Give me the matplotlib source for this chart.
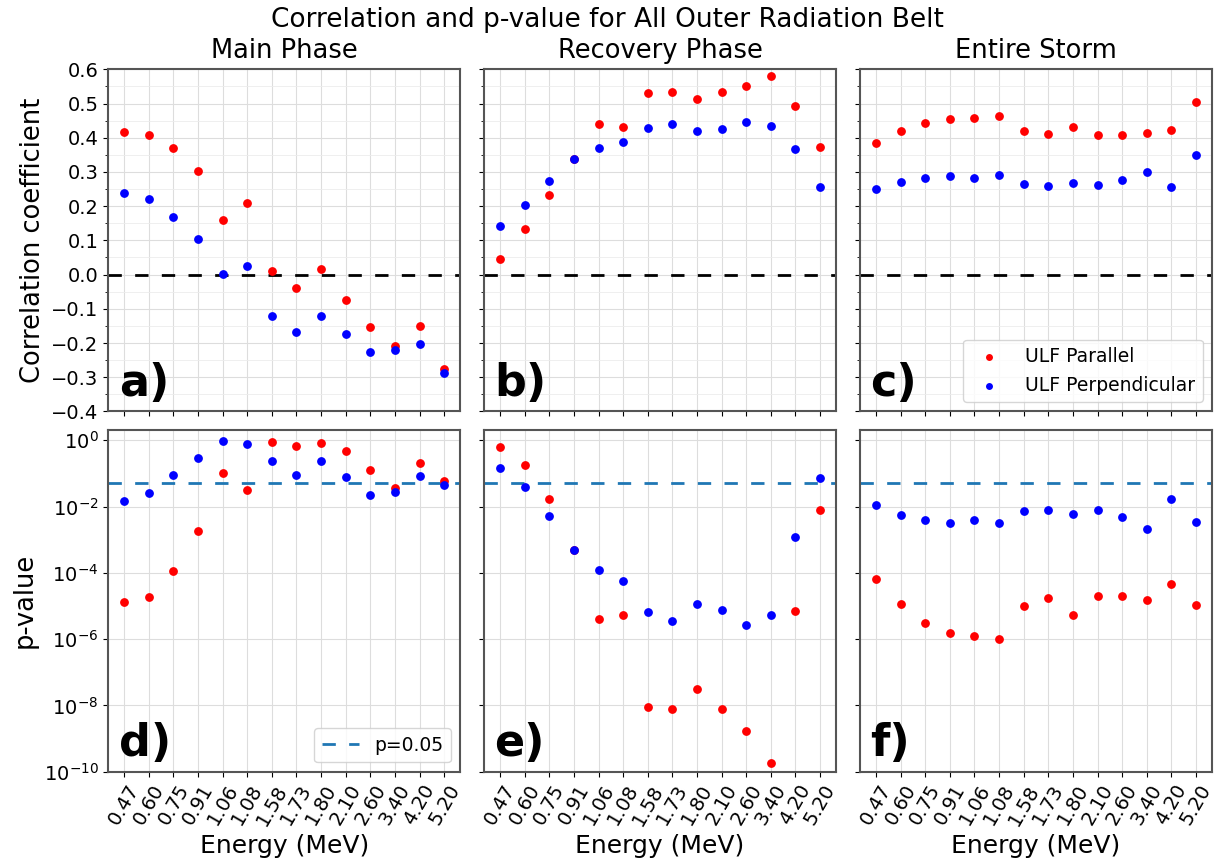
import numpy as np
import matplotlib
matplotlib.use("Agg")
import matplotlib.pyplot as plt
from matplotlib.ticker import MultipleLocator, NullLocator, FixedLocator

# Energías (MeV) como categorías
energies = ["0.47", "0.60", "0.75", "0.91", "1.06", "1.08", "1.58",
            "1.73", "1.80", "2.10", "2.60", "3.40", "4.20", "5.20"]

# Coeficientes de correlación
corr_main_par = [0.417, 0.409, 0.371, 0.303, 0.161, 0.210, 0.011,
                 -0.038, 0.016, -0.074, -0.153, -0.209, -0.149, -0.277]
corr_main_perp = [0.240, 0.220, 0.168, 0.103, 0.003, 0.026, -0.120,
                  -0.167, -0.120, -0.175, -0.226, -0.221, -0.203, -0.288]
corr_rec_par = [0.046, 0.132, 0.234, 0.339, 0.439, 0.432, 0.532,
                0.534, 0.513, 0.534, 0.552, 0.581, 0.493, 0.374]
corr_rec_perp = [0.142, 0.204, 0.274, 0.337, 0.370, 0.388, 0.429,
                 0.440, 0.419, 0.426, 0.446, 0.434, 0.367, 0.257]
corr_all_par = [0.385, 0.420, 0.443, 0.455, 0.459, 0.463, 0.421,
                0.411, 0.432, 0.409, 0.408, 0.415, 0.423, 0.505]
corr_all_perp = [0.249, 0.271, 0.282, 0.288, 0.282, 0.290, 0.264,
                 0.260, 0.269, 0.262, 0.277, 0.300, 0.255, 0.349]

# p-values
p_main_par = [1.3e-5, 1.9e-5, 1.15e-4, 1.8e-3, 0.102, 0.032, 0.89,
              0.69, 0.85, 0.46, 0.126, 0.036, 0.20, 0.059]
p_main_perp = [0.0145, 0.025, 0.087, 0.29, 0.95, 0.76, 0.23,
               0.091, 0.23, 0.079, 0.023, 0.027, 0.081, 0.046]
p_rec_par = [0.63, 0.178, 0.0174, 5.0e-4, 3.9e-6, 5.4e-6, 9.1e-9,
             7.8e-9, 3.2e-8, 7.8e-9, 1.7e-9, 1.8e-10, 7.1e-6, 7.8e-3]
p_rec_perp = [0.148, 0.038, 5.2e-3, 5.0e-4, 1.23e-4, 5.6e-5, 6.6e-6,
              3.6e-6, 1.15e-5, 7.8e-6, 2.6e-6, 5.5e-6, 1.17e-3, 0.072]
p_all_par = [6.3e-5, 1.12e-5, 3.1e-6, 1.5e-6, 1.26e-6, 9.8e-7, 1.02e-5,
             1.74e-5, 5.5e-6, 1.95e-5, 2.0e-5, 1.48e-5, 4.5e-5, 1.1e-5]
p_all_perp = [0.011, 5.6e-3, 3.9e-3, 3.2e-3, 4.0e-3, 3.1e-3, 7.1e-3,
              8.1e-3, 6.0e-3, 7.8e-3, 4.9e-3, 2.1e-3, 0.017, 3.5e-3]

phases = ["Main Phase", "Recovery Phase", "Entire Storm"]
corr_par = [corr_main_par, corr_rec_par, corr_all_par]
corr_perp = [corr_main_perp, corr_rec_perp, corr_all_perp]
p_par = [p_main_par, p_rec_par, p_all_par]
p_perp = [p_main_perp, p_rec_perp, p_all_perp]
letters_top = ["a)", "b)", "c)"]
letters_bot = ["d)", "e)", "f)"]

MS = 28


def style_axis(ax):
    for s in ax.spines.values():
        s.set_color("#555555")
        s.set_linewidth(1.5)
    ax.tick_params(labelsize=14)
    ax.grid(which="major", color="#dddddd", linewidth=0.8)
    ax.grid(which="minor", color="#ececec", linewidth=0.6)
    ax.set_axisbelow(True)


def main():
    fig, axes = plt.subplots(2, 3, figsize=(12.15, 8.67), dpi=100,
                             sharex=True, sharey="row")
    fig.subplots_adjust(left=0.089, right=0.9975, top=0.92, bottom=0.11,
                        wspace=0.068, hspace=0.053)
    x = np.arange(len(energies))

    for j in range(3):
        # Fila superior: correlación
        ax = axes[0, j]
        ax.scatter(x, corr_par[j], s=MS, color="red", label="ULF Parallel", zorder=3)
        ax.scatter(x, corr_perp[j], s=MS, color="blue", label="ULF Perpendicular", zorder=3)
        ax.axhline(0, color="black", linestyle=(0, (4.8, 4.8)), linewidth=2)
        ax.set_ylim(-0.4, 0.6)
        ax.yaxis.set_major_locator(MultipleLocator(0.1))
        ax.yaxis.set_minor_locator(MultipleLocator(0.05))
        ax.set_title(phases[j], fontsize=18.5, pad=8)
        style_axis(ax)
        ax.text(0.03, 0.02, letters_top[j], transform=ax.transAxes,
                fontsize=32, fontweight="bold", va="bottom", ha="left")

        # Fila inferior: p-value
        ax = axes[1, j]
        ax.scatter(x, p_par[j], s=MS, color="red", zorder=3)
        ax.scatter(x, p_perp[j], s=MS, color="blue", zorder=3)
        ax.axhline(0.05, color="#1f77b4", linestyle=(0, (4.8, 4.8)), linewidth=2,
                   label="p=0.05")
        ax.set_yscale("log")
        ax.set_ylim(1e-10, 2.1)
        ax.yaxis.set_major_locator(FixedLocator([1e-10, 1e-8, 1e-6, 1e-4, 1e-2, 1e0]))
        ax.yaxis.set_minor_locator(NullLocator())
        style_axis(ax)
        ax.text(0.03, 0.02, letters_bot[j], transform=ax.transAxes,
                fontsize=32, fontweight="bold", va="bottom", ha="left")
        ax.set_xlabel("Energy (MeV)", fontsize=18)

    axes[1, 0].set_xticks(x)
    axes[1, 0].set_xticklabels(energies)
    for ax in axes[1]:
        ax.tick_params(axis="x", labelsize=14, labelrotation=60)

    axes[0, 0].set_ylabel("Correlation coefficient", fontsize=18.5)
    axes[1, 0].set_ylabel("p-value", fontsize=18.5)

    axes[0, 2].legend(loc="lower right", fontsize=13.5, handletextpad=0.9,
                      markerscale=0.75)
    axes[1, 0].legend(loc="lower right", fontsize=13.5)

    fig.suptitle("Correlation and p-value for All Outer Radiation Belt",
                 fontsize=19, y=0.992)

    fig.savefig("out.png", dpi=100)
    plt.close(fig)


if __name__ == "__main__":
    main()
